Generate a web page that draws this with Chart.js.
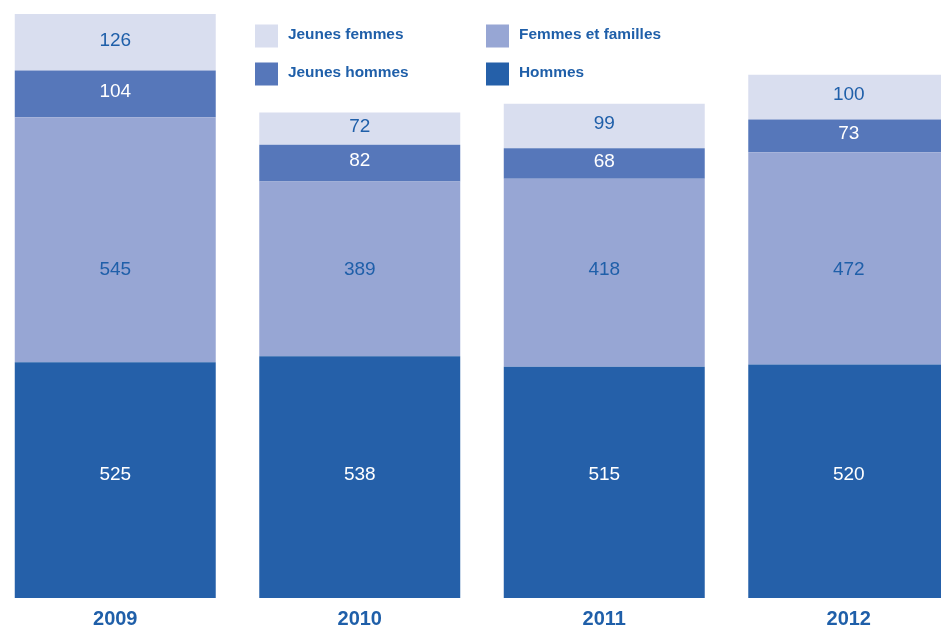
<!DOCTYPE html>
<html lang="fr">
<head>
<meta charset="utf-8">
<title>Hommes, femmes et jeunes 2009-2012</title>
<script src="https://cdn.jsdelivr.net/npm/chart.js@4.4.1/dist/chart.umd.min.js"></script>
<style>
  html, body { margin: 0; padding: 0; background: #fff; overflow: hidden; }
  #wrap { position: absolute; left: -7px; top: 0; width: 978px; height: 630px; }
</style>
</head>
<body>
<div id="wrap"><canvas id="chart"></canvas></div>
<script>
// données
const annees = ['2009', '2010', '2011', '2012'];
const hommes = [525, 538, 515, 520];
const femmesFamilles = [545, 389, 418, 472];
const jeunesHommes = [104, 82, 68, 73];
const jeunesFemmes = [126, 72, 99, 100];

const bleuTexte = '#1f5fa9';
const couleurs = {
    hommes: '#2560a9',
    femmesFamilles: '#97a6d4',
    jeunesHommes: '#5677ba',
    jeunesFemmes: '#d9deef'
};

// hauteur (en valeur) où l'étiquette est posée ; null = milieu du segment
const niveauEtiquette = [275, 730, null, null];
const couleurEtiquette = ['#ffffff', bleuTexte, '#ffffff', bleuTexte];

// étiquettes dans les barres
const etiquettesPlugin = {
    id: 'etiquettes',
    afterDatasetsDraw(chart) {
        const ctx = chart.ctx;
        const y = chart.scales.y;
        ctx.save();
        ctx.font = '19px "Liberation Sans", Arial, sans-serif';
        ctx.textAlign = 'center';
        ctx.textBaseline = 'middle';
        chart.data.datasets.forEach((ds, i) => {
            chart.getDatasetMeta(i).data.forEach((bar, j) => {
                let py = (bar.y + bar.base) / 2 - 2;
                if (niveauEtiquette[i] !== null) py = y.getPixelForValue(niveauEtiquette[i]);
                ctx.fillStyle = couleurEtiquette[i];
                ctx.fillText(ds.data[j], bar.x, py);
            });
        });
        ctx.restore();
    }
};

// légende dans la zone du graphique (2 colonnes)
const legendePlugin = {
    id: 'legendeInterne',
    afterDraw(chart) {
        const ctx = chart.ctx;
        const ordre = [3, 1, 2, 0]; // Jeunes femmes, Femmes et familles, Jeunes hommes, Hommes
        const colX = [262, 493];
        const rowY = [36, 74];
        ctx.save();
        ctx.font = 'bold 15.4px "Liberation Sans", Arial, sans-serif';
        ctx.textBaseline = 'middle';
        ordre.forEach((idx, k) => {
            const ds = chart.data.datasets[idx];
            const x = colX[k % 2];
            const cy = rowY[Math.floor(k / 2)];
            ctx.fillStyle = ds.backgroundColor;
            ctx.fillRect(x, cy - 11.5, 23, 23);
            ctx.fillStyle = bleuTexte;
            ctx.fillText(ds.label, x + 33, cy - 1);
        });
        ctx.restore();
    }
};

const config = {
    type: 'bar',
    data: {
        labels: annees,
        datasets: [
            { label: 'Hommes', data: hommes, backgroundColor: couleurs.hommes },
            { label: 'Femmes et familles', data: femmesFamilles, backgroundColor: couleurs.femmesFamilles },
            { label: 'Jeunes hommes', data: jeunesHommes, backgroundColor: couleurs.jeunesHommes },
            { label: 'Jeunes femmes', data: jeunesFemmes, backgroundColor: couleurs.jeunesFemmes }
        ]
    },
    options: {
        responsive: true,
        maintainAspectRatio: false,
        animation: false,
        layout: { padding: { top: 14, left: 0, right: 0, bottom: 0 } },
        datasets: {
            bar: { categoryPercentage: 1, barPercentage: 0.822, borderWidth: 0 }
        },
        plugins: {
            legend: { display: false },
            tooltip: { enabled: false }
        },
        scales: {
            x: {
                stacked: true,
                grid: { display: false, drawTicks: false },
                border: { display: false },
                ticks: {
                    color: bleuTexte,
                    padding: 9,
                    font: { family: '"Liberation Sans", Arial, sans-serif', size: 20, weight: 'bold' }
                },
                afterFit(scale) { scale.height = 32; }
            },
            y: {
                stacked: true,
                display: false,
                min: 0,
                max: 1300
            }
        }
    },
    plugins: [etiquettesPlugin, legendePlugin]
};

new Chart(document.getElementById('chart').getContext('2d'), config);
</script>
</body>
</html>
